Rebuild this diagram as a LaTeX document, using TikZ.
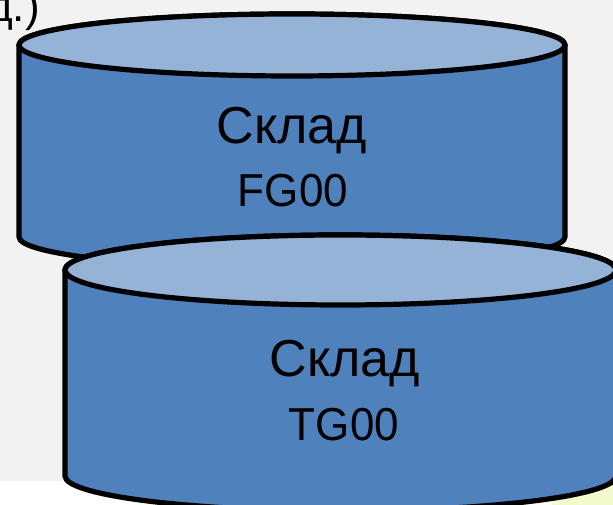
\documentclass[tikz,border=0pt]{standalone}
\usepackage{fontspec}
\setmainfont{Liberation Sans}
\definecolor{bggray}{HTML}{F2F2F2}
\definecolor{sideblue}{HTML}{4F81BD}
\definecolor{topblue}{HTML}{95B3D7}
\definecolor{paleyellow}{HTML}{F3FACB}
\tikzset{
  cylside/.style={fill=sideblue, draw=black, line width=5.2pt, line join=round},
  cyltop/.style={fill=topblue, draw=black, line width=5.2pt},
  bigtxt/.style={inner sep=0pt, anchor=base, font=\fontsize{52}{60}\selectfont},
  codetxt/.style={inner sep=0pt, anchor=base, font=\fontsize{44}{50}\selectfont}
}
\begin{document}
\begin{tikzpicture}[x=1pt,y=1pt]
\useasboundingbox (0,0) rectangle (613,505);
\clip (0,0) rectangle (613,505);
% background
\fill[white] (0,0) rectangle (613,24);
\fill[paleyellow] (552,0) rectangle (613,24);
\fill[bggray] (0,24) rectangle (613,505);
% partial heading text
\node[codetxt, anchor=base east] (head) at (40,483) {д.)};
% cylinder 1
\path[cylside] (19,460) -- (19,268) arc[start angle=180, end angle=360, x radius=273, y radius=31] -- (565,460) arc[start angle=0, end angle=180, x radius=273, y radius=31] -- cycle;
\path[cyltop] (292,460) ellipse[x radius=273, y radius=31];
\node[bigtxt] (s1) at (292,361) {Склад};
\node[codetxt, yscale=1.05] (c1) at (293,298) {FG00};
% cylinder 2
\path[cylside] (65,235) -- (65,29) arc[start angle=180, end angle=360, x radius=275.5, y radius=35] -- (616,235) arc[start angle=0, end angle=180, x radius=275.5, y radius=35] -- cycle;
\path[cyltop] (340.5,235) ellipse[x radius=275.5, y radius=35];
\node[bigtxt] (s2) at (345,128) {Склад};
\node[codetxt, yscale=1.05] (c2) at (344,64) {TG00};
\end{tikzpicture}
\end{document}
